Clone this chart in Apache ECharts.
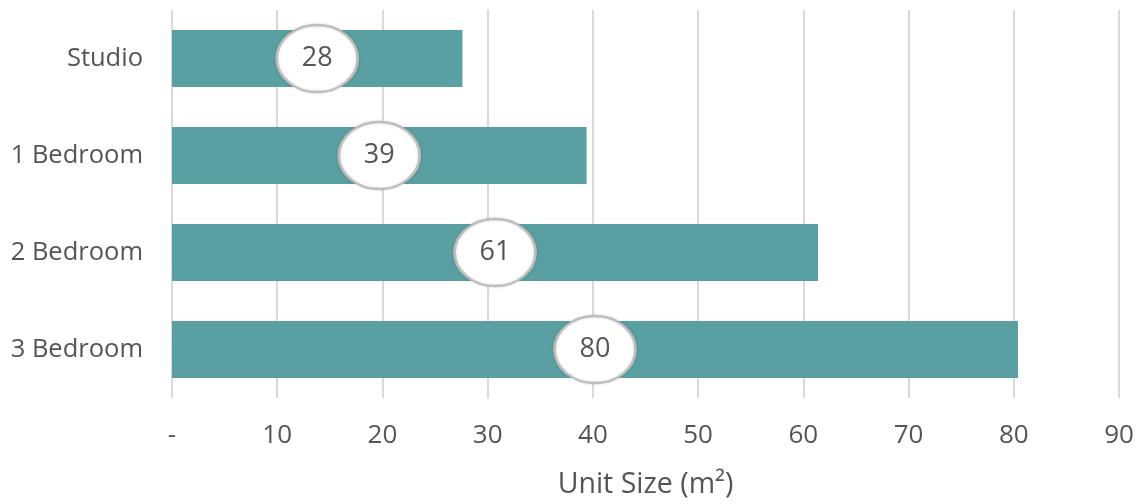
<!DOCTYPE html>
<html>
<head>
<meta charset="utf-8">
<script src="https://cdn.jsdelivr.net/npm/echarts@6/dist/echarts.min.js"></script>
<style>html,body{margin:0;padding:0;background:#fff}#c{width:1138px;height:504px}</style>
</head>
<body>
<div id="c"></div>
<script>
const categories = ['Studio', '1 Bedroom', '2 Bedroom', '3 Bedroom'];
const unitSizes = [27.6, 39.4, 61.4, 80.4];
const tickLabels = ['-', '10', '20', '30', '40', '50', '60', '70', '80', '90'];
const axisTitle = 'Unit Size (m²)';

const FONT = 'Open Sans';
const TXT = '#555555';
const chart = echarts.init(document.getElementById('c'));
chart.setOption({
  animation: false,
  grid: { left: 172, right: 19, top: 10, bottom: 104, containLabel: false },
  xAxis: {
    type: 'value', min: 0, max: 90, interval: 10,
    axisLine: { show: false }, axisTick: { show: false },
    splitLine: { show: true, lineStyle: { color: '#d9d9d9', width: 2 } },
    axisLabel: {
      margin: 25, color: TXT, fontFamily: FONT, fontSize: 26,
      formatter: v => tickLabels[Math.round(v / 10)]
    },
    name: axisTitle, nameLocation: 'middle', nameGap: 72,
    nameTextStyle: { color: TXT, fontFamily: FONT, fontSize: 28.5 }
  },
  yAxis: {
    type: 'category', data: categories, inverse: true,
    axisLine: { show: false }, axisTick: { show: false },
    axisLabel: { margin: 29, color: TXT, fontFamily: FONT, fontSize: 25.5 }
  },
  series: [
    {
      type: 'bar', data: unitSizes, barCategoryGap: '41%',
      itemStyle: { color: '#5a9fa1' }, z: 2
    },
    {
      type: 'scatter',
      data: unitSizes.map((v, i) => [v / 2, categories[i], v]),
      encode: { x: 0, y: 1 },
      symbol: 'circle', symbolSize: [81, 67],
      itemStyle: { color: '#ffffff', borderColor: '#bdbdbd', borderWidth: 2.5, opacity: 1,
        shadowColor: 'rgba(0,0,0,0.15)', shadowBlur: 3 },
      label: {
        show: true, position: 'inside', color: TXT, fontFamily: FONT, fontSize: 27,
        formatter: p => String(Math.round(p.data[2]))
      },
      z: 3
    }
  ]
});
</script>
</body>
</html>
